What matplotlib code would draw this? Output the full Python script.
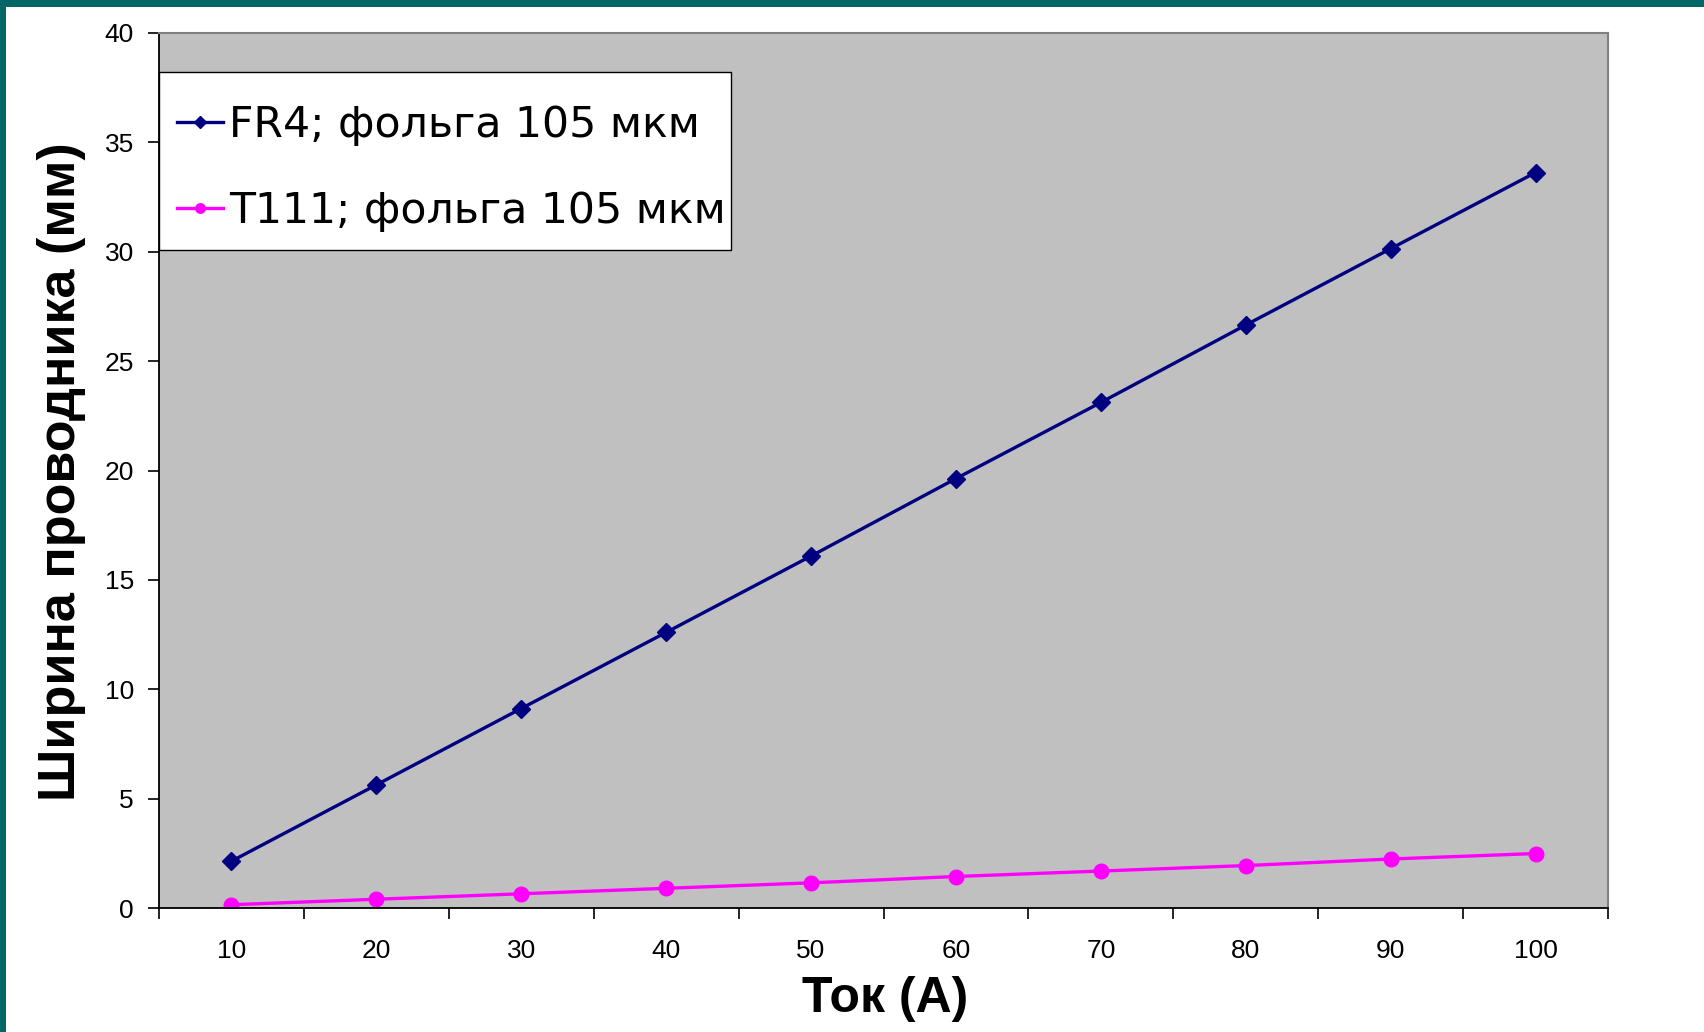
import matplotlib
matplotlib.use("Agg")
import matplotlib.pyplot as plt
from matplotlib.patches import Rectangle
import numpy as np

plt.rcParams['font.family'] = ['Liberation Sans', 'DejaVu Sans']

categories = ['10', '20', '30', '40', '50', '60', '70', '80', '90', '100']
fr4 = [2.14, 5.63, 9.12, 12.6, 16.09, 19.63, 23.11, 26.65, 30.14, 33.62]
t111 = [0.15, 0.40, 0.65, 0.90, 1.15, 1.44, 1.69, 1.94, 2.24, 2.49]
series_labels = ['FR4; фольга 105 мкм', 'T111; фольга 105 мкм']
y_ticks = [0, 5, 10, 15, 20, 25, 30, 35, 40]
x_title = 'Ток (А)'
y_title = 'Ширина проводника (мм)'

W, H = 1704, 1032
fig = plt.figure(figsize=(W / 100, H / 100), dpi=100)
fig.patch.set_facecolor('white')

# teal frame
fig.patches.append(Rectangle((0, 1 - 7 / H), 1, 7 / H, transform=fig.transFigure,
                             facecolor='#006666', edgecolor='none', zorder=-1))
fig.patches.append(Rectangle((0, 0), 6 / W, 1, transform=fig.transFigure,
                             facecolor='#006666', edgecolor='none', zorder=-1))

left, right, top, bottom = 159, 1608, 33, 908
aw, ah = right - left, bottom - top
ax = fig.add_axes([left / W, 1 - bottom / H, aw / W, ah / H])
ax.set_facecolor('#C0C0C0')

x = np.arange(1, len(categories) + 1)
l1, = ax.plot(x, fr4, color='#000080', lw=2.4, marker='D', ms=9, label=series_labels[0])
l2, = ax.plot(x, t111, color='#FF00FF', lw=2.4, marker='o', ms=10.5, label=series_labels[1])

ax.set_xlim(0.5, len(categories) + 0.5)
ax.set_ylim(0, 40)
ax.set_yticks(y_ticks)
ax.set_yticklabels([str(v) for v in y_ticks])

ax.set_xticks(np.arange(0.5, len(categories) + 1, 1.0))
ax.set_xticklabels([])
ax.set_xticks(x, minor=True)
ax.set_xticklabels(categories, minor=True)
ax.tick_params(axis='x', which='major', direction='out', length=8, width=1.2, color='black')
ax.tick_params(axis='x', which='minor', length=0, pad=22, labelsize=19)
ax.tick_params(axis='y', direction='out', length=8, width=1.2, labelsize=19, pad=10)

for s in ['left', 'bottom']:
    ax.spines[s].set_color('black')
    ax.spines[s].set_linewidth(1.3)
for s in ['top', 'right']:
    ax.spines[s].set_color('#808080')
    ax.spines[s].set_linewidth(1.5)

# axis titles
fig.text(75 / W, 1 - 472 / H, y_title, rotation=90, rotation_mode='anchor',
         ha='center', va='baseline', fontsize=37.5, fontweight='bold')
fig.text(885 / W, 1 - 1012 / H, x_title, ha='center', va='baseline',
         fontsize=36, fontweight='bold')

# legend box (white, black edge)
bx0, by0, bx1, by1 = 159, 72, 731, 250
ax.add_patch(Rectangle(((bx0 - left) / aw, (bottom - by1) / ah),
                       (bx1 - bx0) / aw, (by1 - by0) / ah, transform=ax.transAxes,
                       facecolor='white', edgecolor='black', lw=1.0, zorder=4,
                       clip_on=False))
leg = ax.legend(handles=[l1, l2], loc='upper left',
                bbox_to_anchor=((177 - left) / aw, (bottom - 104) / ah),
                borderaxespad=0, borderpad=0, frameon=False,
                prop={'family': 'DejaVu Sans', 'size': 30.7},
                handlelength=1.07, handletextpad=0.15,
                labelspacing=1.04, markerscale=0.65)
leg.set_zorder(5)

fig.savefig('out.png', dpi=100)
